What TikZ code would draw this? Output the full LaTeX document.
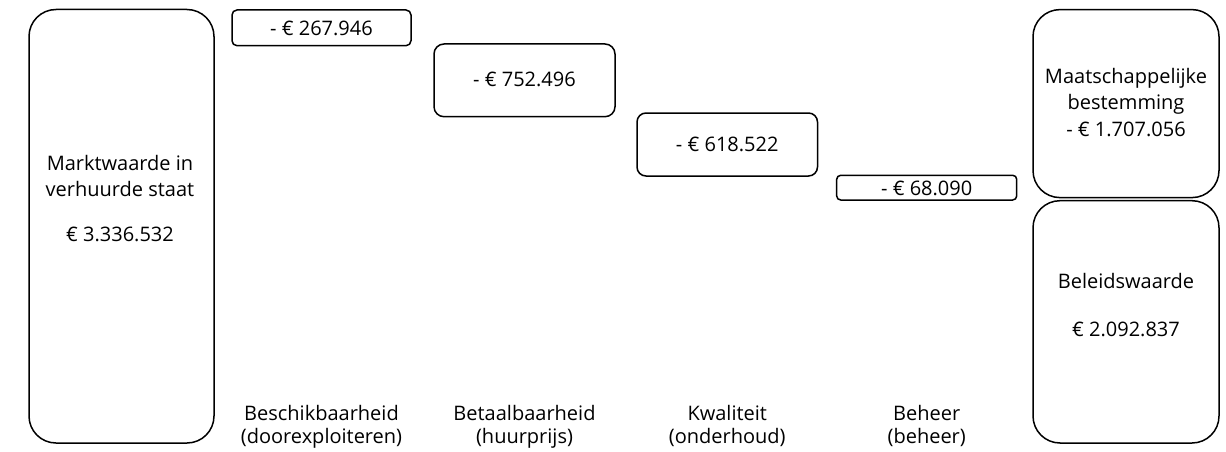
\documentclass[tikz,border=0pt]{standalone}
\usepackage{fontspec}
\setmainfont{Open Sans}
\begin{document}
\begin{tikzpicture}[x=1pt,y=-1pt,
  box/.style={draw, line width=1.5pt, inner sep=0pt, outer sep=0pt},
  txt/.style={anchor=base, inner sep=0pt, outer sep=0pt, font=\fontsize{20}{24}\selectfont}]
\useasboundingbox (0,0) rectangle (1226,452);
% boxes
\node[box, rounded corners=27pt, minimum width=185pt, minimum height=433.5pt] (mw) at (121.5,226.25) {};
\node[box, rounded corners=5pt, minimum width=179pt, minimum height=35.7pt] (b1) at (321.5,27.85) {};
\node[box, rounded corners=10pt, minimum width=181pt, minimum height=72.7pt] (b2) at (524.5,80.35) {};
\node[box, rounded corners=9pt, minimum width=180.5pt, minimum height=63pt] (b3) at (727.25,144.5) {};
\node[box, rounded corners=4pt, minimum width=180pt, minimum height=24.7pt] (b4) at (926.7,187.65) {};
\node[box, rounded corners=27pt, minimum width=186pt, minimum height=188pt] (ms) at (1126,103.6) {};
\node[box, rounded corners=27pt, minimum width=186pt, minimum height=242.3pt] (bw) at (1126,321.85) {};
% texts in boxes
\node[txt] (mwa) at (120,170.7) {Marktwaarde in};
\node[txt] (mwb) at (120,196) {verhuurde staat};
\node[txt] (mwc) at (120,241.7) {€ 3.336.532};
\node[txt] (t1) at (321.5,35.3) {- € 267.946};
\node[txt] (t2) at (524.5,86) {- € 752.496};
\node[txt] (t3) at (727.25,151.7) {- € 618.522};
\node[txt] (t4) at (926.7,195.7) {- € 68.090};
\node[txt] (msa) at (1126,84) {Maatschappelijke};
\node[txt] (msb) at (1126,110) {bestemming};
\node[txt] (msc) at (1126,136.7) {- € 1.707.056};
\node[txt] (bwa) at (1126,288.3) {Beleidswaarde};
\node[txt] (bwb) at (1126,336.7) {€ 2.092.837};
% category labels
\node[txt] (l1a) at (321.5,420) {Beschikbaarheid};
\node[txt] (l1b) at (321.5,443) {(doorexploiteren)};
\node[txt] (l2a) at (524.5,420) {Betaalbaarheid};
\node[txt] (l2b) at (524.5,443) {(huurprijs)};
\node[txt] (l3a) at (727.25,420) {Kwaliteit};
\node[txt] (l3b) at (727.25,443) {(onderhoud)};
\node[txt] (l4a) at (926.7,420) {Beheer};
\node[txt] (l4b) at (926.7,443) {(beheer)};
\end{tikzpicture}
\end{document}
